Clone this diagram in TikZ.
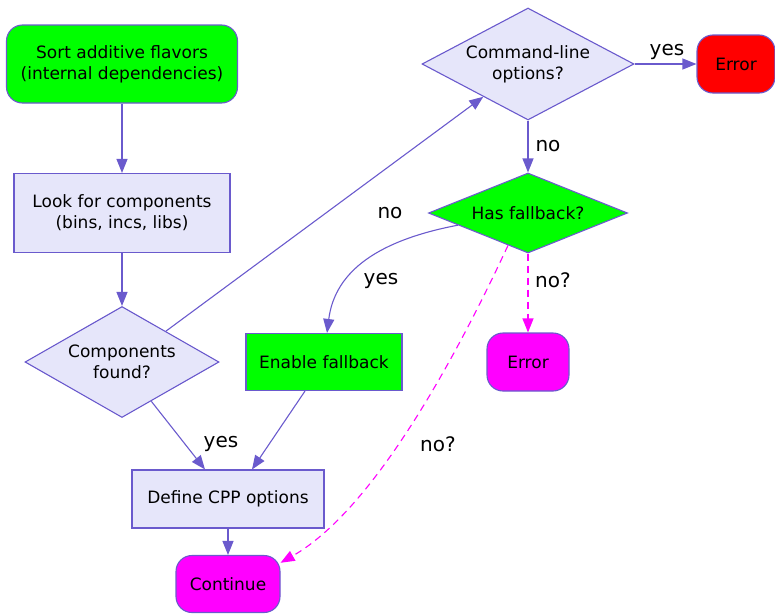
\documentclass[tikz,border=0pt]{standalone}
\usepackage{fontspec}
\setmainfont{DejaVu Sans}
\usetikzlibrary{shapes.geometric,arrows.meta,calc}
\definecolor{sb}{HTML}{6A5ACD}
\definecolor{lav}{HTML}{E6E6FA}
\definecolor{grn}{HTML}{00FF00}
\definecolor{mag}{HTML}{FF00FF}
\definecolor{rd}{HTML}{FF0000}
\begin{document}
\begin{tikzpicture}[x=1pt,y=-1pt,
  base/.style={draw=sb, line width=1.1pt, font=\fontsize{17}{21}\selectfont, align=center, inner sep=0pt, text=black},
  rbox/.style={base, rectangle, rounded corners=16pt},
  sbox/.style={base, rectangle},
  dia/.style={base, diamond},
  edge/.style={draw=sb, line width=1.1pt, -{Triangle[length=14pt,width=11pt]}},
  dedge/.style={draw=mag, line width=1.1pt, dashed, dash pattern=on 7pt off 5pt, -{Triangle[length=14pt,width=11pt]}},
  lbl/.style={font=\fontsize{20}{24}\selectfont, inner sep=0pt, text=black}]
\useasboundingbox (0,0) rectangle (775,613);
\node[rbox, fill=grn, minimum width=231pt, minimum height=78pt] (sort) at (122,64) {Sort additive flavors\\(internal dependencies)};
\node[sbox, fill=lav, minimum width=216pt, minimum height=79pt] (look) at (122,213) {Look for components\\(bins, incs, libs)};
\node[dia, fill=lav, shape aspect=1.75, minimum width=194pt, minimum height=111pt] (comp) at (122,362) {Components\\found?};
\node[dia, fill=lav, shape aspect=1.89, minimum width=212pt, minimum height=112pt] (cmd) at (528,64) {Command-line\\options?};
\node[rbox, fill=rd, minimum width=78pt, minimum height=58pt] (err) at (736,64) {Error};
\node[dia, fill=grn, shape aspect=2.49, minimum width=199pt, minimum height=80pt] (hf) at (528,213) {Has fallback?};
\node[sbox, fill=grn, minimum width=156pt, minimum height=57pt] (en) at (324,362) {Enable fallback};
\node[rbox, fill=mag, minimum width=82pt, minimum height=58pt] (err2) at (528,362) {Error};
\node[sbox, fill=lav, minimum width=192pt, minimum height=58pt] (def) at (228,499) {Define CPP options};
\node[rbox, fill=mag, minimum width=104pt, minimum height=57pt] (cont) at (228,584) {Continue};

\draw[edge] (sort) -- (look);
\draw[edge] (look) -- (comp);
\draw[edge] ($(comp.north)!0.45!(comp.east)$) -- ($(cmd.west)!0.58!(cmd.south)$);
\draw[edge] (cmd.east) -- (err.west);
\draw[edge] (cmd.south) -- (hf.north);
\draw[edge] ($(hf.west)!0.3!(hf.south)$) .. controls (380,240) and (335,270) .. ([xshift=3pt]en.north);
\draw[dedge] (hf.south) -- (err2.north);
\draw[dedge] ($(hf.west)!0.8!(hf.south)$) .. controls (450,370) and (370,512) .. (cont.22);
\draw[edge] ($(comp.south)!0.3!(comp.east)$) -- ([xshift=-23pt]def.north);
\draw[edge] ([xshift=-19pt]en.south) -- ([xshift=24pt]def.north);
\draw[edge] (def) -- (cont);

\node[lbl] (l1) at (667,52) {yes};
\node[lbl] (l2) at (548,146) {no};
\node[lbl] (l3) at (390,213) {no};
\node[lbl] (l4) at (381,281) {yes};
\node[lbl] (l5) at (553,280) {no?};
\node[lbl] (l6) at (438,444) {no?};
\node[lbl] (l7) at (221,444) {yes};
\end{tikzpicture}
\end{document}
